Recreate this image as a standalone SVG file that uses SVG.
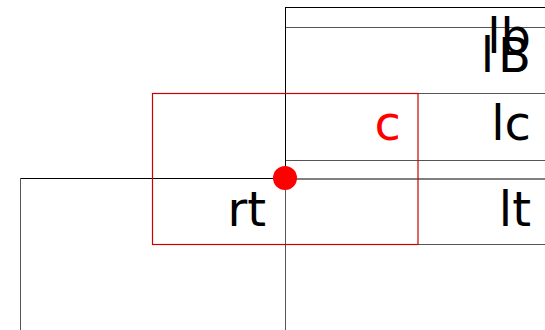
<svg xmlns="http://www.w3.org/2000/svg" width="545" height="330" viewBox="0 0 545 330">
<style>
.t{font-family:"DejaVu Sans",sans-serif;font-size:48px;text-anchor:end;fill:#000}
.k{stroke:#000;stroke-width:1;fill:none}
.g{stroke:#555;stroke-width:1;fill:none}
</style>
<rect width="545" height="330" fill="#fff"/>
<g id="lines">
<line class="k" x1="285" y1="7.5" x2="545" y2="7.5"/>
<line class="g" x1="285" y1="27.5" x2="545" y2="27.5"/>
<line class="g" x1="285" y1="93.5" x2="545" y2="93.5"/>
<line class="g" x1="285" y1="160.5" x2="545" y2="160.5"/>
<line class="k" x1="285" y1="179" x2="545" y2="179" stroke-width="2"/>
<line class="k" x1="20" y1="178.5" x2="285" y2="178.5"/>
<line class="g" x1="418" y1="244.5" x2="545" y2="244.5"/>
<line class="k" x1="285.5" y1="7" x2="285.5" y2="178"/>
<line class="g" x1="285.5" y1="178" x2="285.5" y2="330" stroke-width="1.6"/>
<line class="g" x1="20.5" y1="178" x2="20.5" y2="330"/>
</g>
<g id="box">
<rect x="152.5" y="93.5" width="265.5" height="151" fill="none" stroke="#c00" stroke-width="1.2"/>
</g>
<g id="labels">
<text class="t" x="531" y="53">lb</text>
<text class="t" x="535" y="72" letter-spacing="4">lB</text>
<text class="t" x="531" y="140">lc</text>
<text class="t" x="401" y="140" style="fill:#f00">c</text>
<text class="t" x="266" y="226">rt</text>
<text class="t" x="531" y="226">lt</text>
</g>
<circle id="dot" cx="285" cy="178" r="12" fill="#f00"/>
</svg>
